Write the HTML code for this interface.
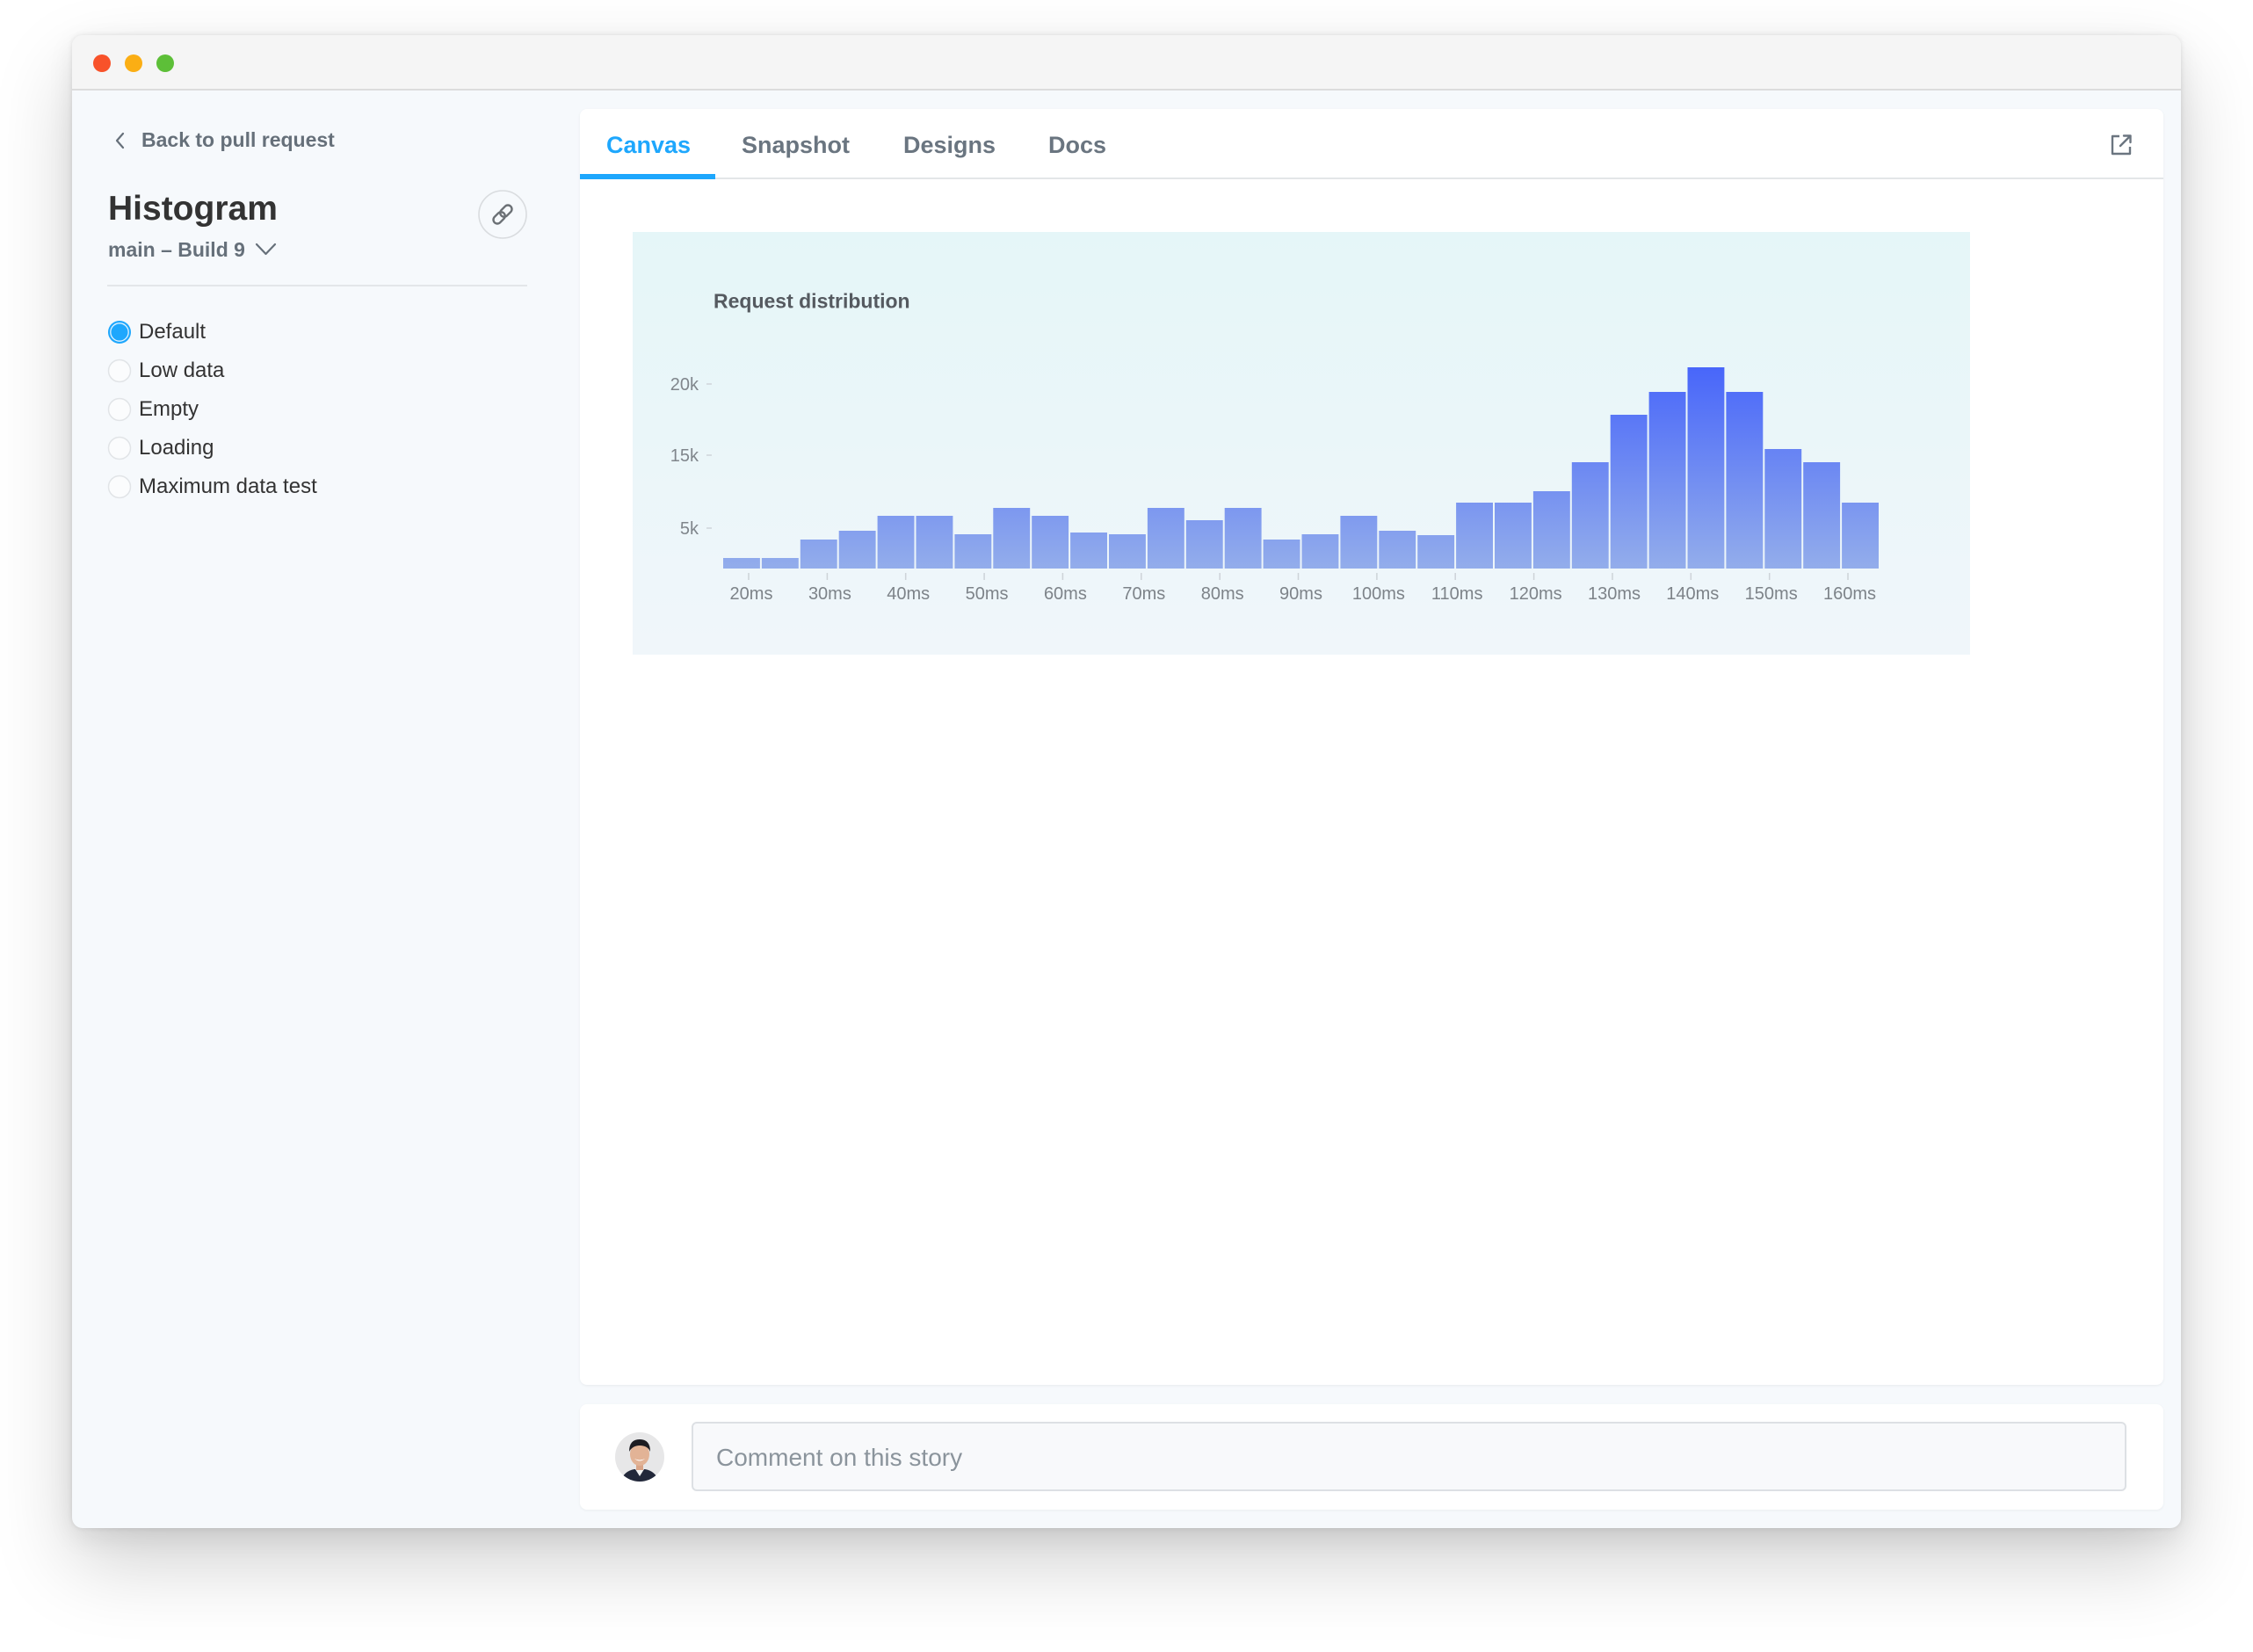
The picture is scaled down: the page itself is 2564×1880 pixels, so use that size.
<!DOCTYPE html>
<html>
<head>
<meta charset="utf-8">
<style>
  html,body{margin:0;padding:0;background:#ffffff;}
  body{width:2564px;height:1880px;position:relative;overflow:hidden;font-family:"Liberation Sans",sans-serif;}
  .abs{position:absolute;}
  .win{position:absolute;left:82px;top:40px;width:2400px;height:1699px;border-radius:12px;background:#f6f9fc;
       box-shadow:0 0 6px rgba(0,0,0,0.10),0 40px 90px rgba(0,0,0,0.18),0 10px 30px rgba(0,0,0,0.08);overflow:hidden;}
  .titlebar{position:absolute;left:0;top:0;width:2400px;height:61px;background:#f5f5f5;border-bottom:2px solid #dcdcdc;}
  .dot{position:absolute;width:20px;height:20px;border-radius:50%;top:22px;}
  .t{position:absolute;line-height:1;white-space:nowrap;}
  .panel{position:absolute;left:660px;top:124px;width:1802px;height:1452px;background:#fff;border-radius:8px;
         box-shadow:0 1px 3px rgba(0,0,0,0.06);}
  .card{position:absolute;left:660px;top:1598px;width:1802px;height:120px;background:#fff;border-radius:8px;
         box-shadow:0 1px 3px rgba(0,0,0,0.05);}
  .tab{position:absolute;top:152px;font-size:27px;font-weight:bold;line-height:1;color:#6a7580;white-space:nowrap;}
</style>
</head>
<body>
<div class="win">
  <div class="titlebar">
    <div class="dot" style="left:23.6px;background:#f8522a;"></div>
    <div class="dot" style="left:60px;background:#fbae14;"></div>
    <div class="dot" style="left:96px;background:#5dbf38;"></div>
  </div>
</div>

<!-- main panel -->
<div class="panel"></div>
<div class="card"></div>

<!-- sidebar content -->
<svg class="abs" style="left:0;top:0;" width="660" height="700" viewBox="0 0 660 700">
  <polyline points="140,152 133,160 140,168" fill="none" stroke="#66707a" stroke-width="2.2" stroke-linecap="round" stroke-linejoin="round"/>
  <polyline points="292,278 302.5,289 313,278" fill="none" stroke="#66707a" stroke-width="2.2" stroke-linecap="round" stroke-linejoin="round"/>
  <circle cx="572" cy="244" r="27" fill="#f6f9fc" stroke="#d9dcdf" stroke-width="1.6"/>
  <g transform="translate(572 244) rotate(-45)" fill="none" stroke="#6b7075" stroke-width="2.4">
    <rect x="-13" y="-4.5" width="15" height="9" rx="4.5"/>
    <rect x="-2" y="-4.5" width="15" height="9" rx="4.5"/>
  </g>
  <line x1="122" y1="325" x2="600" y2="325" stroke="#e3e6e9" stroke-width="2"/>
  <circle cx="136" cy="378" r="13" fill="#1ea7fd"/>
  <circle cx="136" cy="378" r="10.2" fill="none" stroke="#dff2ff" stroke-width="1.3"/>
  <circle cx="136" cy="422" r="12.5" fill="#fbfcfd" stroke="#e1e4e7" stroke-width="1.5"/>
  <circle cx="136" cy="466" r="12.5" fill="#fbfcfd" stroke="#e1e4e7" stroke-width="1.5"/>
  <circle cx="136" cy="510" r="12.5" fill="#fbfcfd" stroke="#e1e4e7" stroke-width="1.5"/>
  <circle cx="136" cy="554" r="12.5" fill="#fbfcfd" stroke="#e1e4e7" stroke-width="1.5"/>
</svg>

<div class="t" style="left:161px;top:148px;font-size:23px;font-weight:bold;color:#66707a;">Back to pull request</div>
<div class="t" style="left:123px;top:218px;font-size:39px;font-weight:bold;color:#333333;">Histogram</div>
<div class="t" style="left:123px;top:273px;font-size:23px;font-weight:bold;color:#66707a;">main – Build 9</div>
<div class="t" style="left:158px;top:366px;font-size:24px;color:#333333;">Default</div>
<div class="t" style="left:158px;top:410px;font-size:24px;color:#333333;">Low data</div>
<div class="t" style="left:158px;top:454px;font-size:24px;color:#333333;">Empty</div>
<div class="t" style="left:158px;top:498px;font-size:24px;color:#333333;">Loading</div>
<div class="t" style="left:158px;top:542px;font-size:24px;color:#333333;">Maximum data test</div>

<!-- tabs -->
<div class="tab" style="left:690px;color:#1ea7fd;">Canvas</div>
<div class="tab" style="left:844px;">Snapshot</div>
<div class="tab" style="left:1028px;">Designs</div>
<div class="tab" style="left:1193px;">Docs</div>
<div class="abs" style="left:660px;top:202px;width:1802px;height:2px;background:#e3e6e8;"></div>
<div class="abs" style="left:660px;top:198px;width:154px;height:6px;background:#1ea7fd;"></div>
<svg class="abs" style="left:2398px;top:148px;" width="32" height="32" viewBox="2398 148 32 32">
  <path d="M2412 155 H2404 V175 H2424 V167" fill="none" stroke="#6b7580" stroke-width="2.4" stroke-linejoin="round"/>
  <path d="M2413 166 L2424.5 154.5 M2417 154.5 H2424.5 V162" fill="none" stroke="#6b7580" stroke-width="2.4" stroke-linecap="round" stroke-linejoin="round"/>
</svg>

<!-- chart -->
<svg class="abs" style="left:720px;top:264px;" width="1522" height="481" viewBox="720 264 1522 481">
  <defs>
    <linearGradient id="bg" x1="0" y1="0" x2="0" y2="1">
      <stop offset="0" stop-color="#e5f6f8"/>
      <stop offset="1" stop-color="#f0f6fa"/>
    </linearGradient>
    <linearGradient id="bar" gradientUnits="userSpaceOnUse" x1="0" y1="418" x2="0" y2="647">
      <stop offset="0" stop-color="#4866fa"/>
      <stop offset="1" stop-color="#93adeb"/>
    </linearGradient>
  </defs>
  <rect x="720" y="264" width="1522" height="481" fill="url(#bg)"/>
  <text x="812" y="350.7" font-family="Liberation Sans, sans-serif" font-size="23" font-weight="bold" fill="#555a60">Request distribution</text>
  <g font-family="Liberation Sans, sans-serif" font-size="20" fill="#80868c" text-anchor="end">
    <text x="795" y="444">20k</text>
    <text x="795" y="525">15k</text>
    <text x="795" y="608">5k</text>
  </g>
  <g stroke="#cfd5da" stroke-width="1.5">
    <line x1="804" y1="437" x2="810" y2="437"/>
    <line x1="804" y1="518" x2="810" y2="518"/>
    <line x1="804" y1="601" x2="810" y2="601"/>
  </g>
  <g fill="url(#bar)">
    <rect x="823" y="635" width="41.9" height="12"/>
    <rect x="866.9" y="635" width="41.9" height="12"/>
    <rect x="910.8" y="614" width="41.9" height="33"/>
    <rect x="954.7" y="604" width="41.9" height="43"/>
    <rect x="998.6" y="587" width="41.9" height="60"/>
    <rect x="1042.5" y="587" width="41.9" height="60"/>
    <rect x="1086.4" y="608" width="41.9" height="39"/>
    <rect x="1130.3" y="578" width="41.9" height="69"/>
    <rect x="1174.2" y="587" width="41.9" height="60"/>
    <rect x="1218.1" y="606" width="41.9" height="41"/>
    <rect x="1262" y="608" width="41.9" height="39"/>
    <rect x="1305.9" y="578" width="41.9" height="69"/>
    <rect x="1349.8" y="592" width="41.9" height="55"/>
    <rect x="1393.7" y="578" width="41.9" height="69"/>
    <rect x="1437.6" y="614" width="41.9" height="33"/>
    <rect x="1481.5" y="608" width="41.9" height="39"/>
    <rect x="1525.4" y="587" width="41.9" height="60"/>
    <rect x="1569.3" y="604" width="41.9" height="43"/>
    <rect x="1613.2" y="609" width="41.9" height="38"/>
    <rect x="1657.1" y="572" width="41.9" height="75"/>
    <rect x="1701" y="572" width="41.9" height="75"/>
    <rect x="1744.9" y="559" width="41.9" height="88"/>
    <rect x="1788.8" y="526" width="41.9" height="121"/>
    <rect x="1832.7" y="472" width="41.9" height="175"/>
    <rect x="1876.6" y="446" width="41.9" height="201"/>
    <rect x="1920.5" y="418" width="41.9" height="229"/>
    <rect x="1964.4" y="446" width="41.9" height="201"/>
    <rect x="2008.3" y="511" width="41.9" height="136"/>
    <rect x="2052.2" y="526" width="41.9" height="121"/>
    <rect x="2096.1" y="572" width="41.9" height="75"/>
  </g>
  <g stroke="#cdd3d8" stroke-width="1.5">
    <line x1="852" y1="652" x2="852" y2="660"/>
    <line x1="941.4" y1="652" x2="941.4" y2="660"/>
    <line x1="1030.7" y1="652" x2="1030.7" y2="660"/>
    <line x1="1120.1" y1="652" x2="1120.1" y2="660"/>
    <line x1="1209.4" y1="652" x2="1209.4" y2="660"/>
    <line x1="1298.8" y1="652" x2="1298.8" y2="660"/>
    <line x1="1388.2" y1="652" x2="1388.2" y2="660"/>
    <line x1="1477.5" y1="652" x2="1477.5" y2="660"/>
    <line x1="1566.9" y1="652" x2="1566.9" y2="660"/>
    <line x1="1656.2" y1="652" x2="1656.2" y2="660"/>
    <line x1="1745.6" y1="652" x2="1745.6" y2="660"/>
    <line x1="1835" y1="652" x2="1835" y2="660"/>
    <line x1="1924.3" y1="652" x2="1924.3" y2="660"/>
    <line x1="2013.7" y1="652" x2="2013.7" y2="660"/>
    <line x1="2103" y1="652" x2="2103" y2="660"/>
  </g>
  <g font-family="Liberation Sans, sans-serif" font-size="20" fill="#7d8389" text-anchor="middle">
    <text x="855" y="682">20ms</text>
    <text x="944.4" y="682">30ms</text>
    <text x="1033.7" y="682">40ms</text>
    <text x="1123.1" y="682">50ms</text>
    <text x="1212.4" y="682">60ms</text>
    <text x="1301.8" y="682">70ms</text>
    <text x="1391.2" y="682">80ms</text>
    <text x="1480.5" y="682">90ms</text>
    <text x="1568.9" y="682">100ms</text>
    <text x="1658.2" y="682">110ms</text>
    <text x="1747.6" y="682">120ms</text>
    <text x="1837" y="682">130ms</text>
    <text x="1926.3" y="682">140ms</text>
    <text x="2015.7" y="682">150ms</text>
    <text x="2105" y="682">160ms</text>
  </g>
</svg>

<!-- comment area -->
<svg class="abs" style="left:700px;top:1630px;" width="56" height="56" viewBox="0 0 56 56">
  <defs><clipPath id="av"><circle cx="28" cy="28" r="28"/></clipPath></defs>
  <g clip-path="url(#av)">
    <rect width="56" height="56" fill="#e7e7e8"/>
    <path d="M6 56 Q10 44 22 42 L34 42 Q46 44 50 56 Z" fill="#22283a"/>
    <path d="M23 42 L28 50 L33 42 Z" fill="#f2f2f2"/>
    <rect x="24" y="34" width="8" height="9" fill="#d9a588"/>
    <ellipse cx="28" cy="25" rx="11" ry="13" fill="#e2b396"/>
    <path d="M16 22 Q16 8 28 8 Q40 8 40 22 Q37 15 28 15 Q20 15 16 22 Z" fill="#1c1c22"/>
    <path d="M22 30 Q28 35 34 30 Q28 33 22 30 Z" fill="#ffffff"/>
  </g>
</svg>
<div class="abs" style="left:787px;top:1618px;width:1629px;height:75px;border:2px solid #dde0e4;border-radius:6px;background:#f8f9fb;"></div>
<div class="t" style="left:815px;top:1645px;font-size:28px;color:#8b949c;">Comment on this story</div>

</body>
</html>
